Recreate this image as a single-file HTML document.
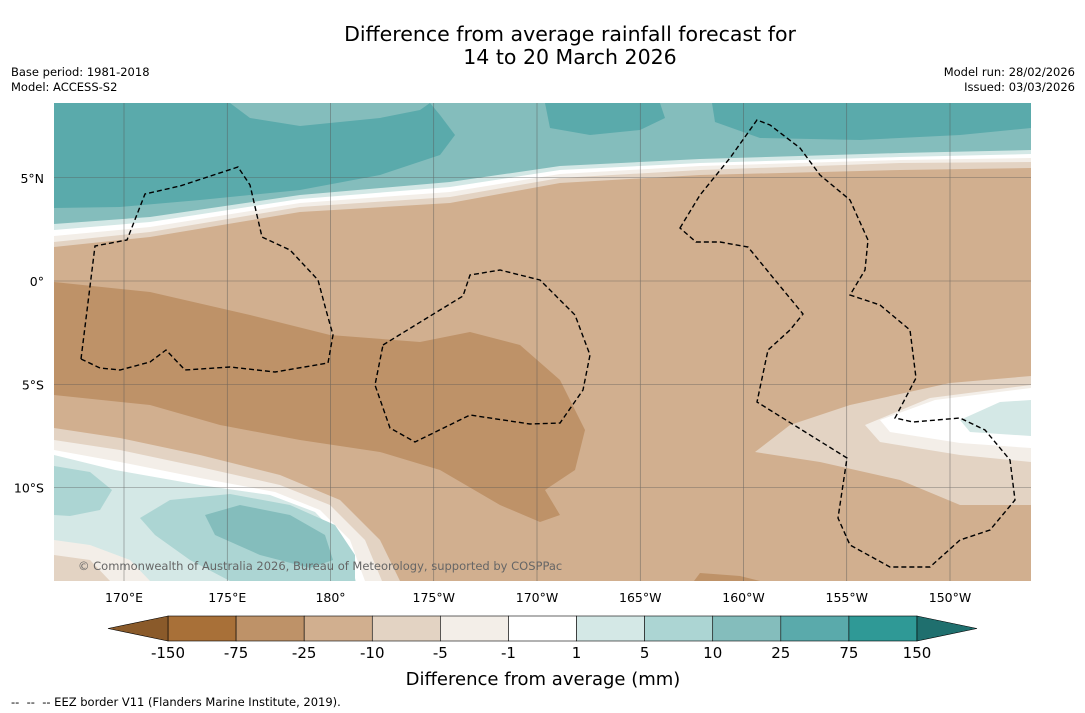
<!DOCTYPE html>
<html><head><meta charset="utf-8"><style>
body{margin:0;background:#fff;font-family:"DejaVu Sans",sans-serif;}
svg{display:block}
text{font-family:"DejaVu Sans",sans-serif}
</style></head><body>
<svg id="s" width="1085" height="713" viewBox="0 0 1085 713">
<rect width="1085" height="713" fill="#fff"/>
<text x="570" y="41" font-size="20.5" text-anchor="middle">Difference from average rainfall forecast for</text>
<text x="570" y="64" font-size="20.5" text-anchor="middle">14 to 20 March 2026</text>
<text x="11" y="76" font-size="11.5">Base period: 1981-2018</text>
<text x="11" y="91" font-size="11.5">Model: ACCESS-S2</text>
<text x="1075" y="76" font-size="11.5" text-anchor="end">Model run: 28/02/2026</text>
<text x="1075" y="91" font-size="11.5" text-anchor="end">Issued: 03/03/2026</text>
<defs><clipPath id="mc"><rect x="54" y="103" width="977" height="478"/></clipPath></defs>
<g clip-path="url(#mc)">
<rect x="54" y="103" width="977" height="478" fill="#d1af8f"/>
<path d="M54,103H1031V168L900,170L700,175L560,183L450,203L300,212L150,237L54,247Z" fill="#e3d3c3"/>
<path d="M54,103H1031V162L900,163L700,170L560,178L450,197L300,207L150,232L54,242Z" fill="#f3eee8"/>
<path d="M54,103H1031V158L900,160L700,166L560,174L450,192L300,203L150,227L54,236Z" fill="#fff"/>
<path d="M54,103H1031V154L900,157L700,163L560,170L450,187L300,199L150,222L54,230Z" fill="#d4e8e6"/>
<path d="M54,103H1031V150L900,153L700,159L560,166L450,182L300,195L150,217L54,224Z" fill="#84bdbc"/>
<path d="M54,103H430L440,115L455,135L440,155L380,175L300,190L200,200L120,207L54,208Z" fill="#5aaaab"/>
<path d="M54,103H230L250,118L300,126L380,118L420,110L430,103Z" fill="#84bdbc"/>
<path d="M545,103H660L665,118L640,130L590,135L550,128Z" fill="#5aaaab"/>
<path d="M712,103H1031V128L960,135L860,140L760,138L715,122Z" fill="#5aaaab"/>
<path d="M54,282L150,292L250,315L330,335L420,342L470,332L520,345L560,380L585,430L575,470L545,490L560,515L540,522L500,505L440,470L380,452L300,440L220,425L150,405L54,395Z" fill="#be9268"/>
<path d="M694,581L700,573L740,576L760,581Z" fill="#be9268"/>
<path d="M54,428L120,438L200,455L280,475L340,500L380,540L400,581H54Z" fill="#e3d3c3"/>
<path d="M54,440L120,450L200,467L280,485L330,505L365,540L382,581H54Z" fill="#f3eee8"/>
<path d="M54,450L120,462L200,478L275,492L320,510L350,540L365,581H54Z" fill="#fff"/>
<path d="M54,455L115,470L200,485L270,495L315,512L342,540L356,581H54Z" fill="#d4e8e6"/>
<path d="M54,466L90,472L112,490L100,510L70,516L54,515Z" fill="#acd5d3"/>
<path d="M140,518L170,500L230,494L290,505L335,525L355,555L355,581H230L190,560L155,535Z" fill="#acd5d3"/>
<path d="M205,515L240,505L290,515L325,535L333,560L310,568L260,555L215,535Z" fill="#84bdbc"/>
<path d="M54,540L90,545L130,560L150,581H54Z" fill="#f3eee8"/>
<path d="M54,555L90,560L110,581H54Z" fill="#e3d3c3"/>
<path d="M755,452L790,425L850,405L950,383L1031,376V505L960,505L900,480L820,462Z" fill="#e3d3c3"/>
<path d="M865,425L930,398L1031,385V462L960,455L880,442Z" fill="#f3eee8"/>
<path d="M880,420L935,400L1031,388V448L960,443L890,432Z" fill="#fff"/>
<path d="M960,420L1000,402L1031,400V436L970,432Z" fill="#d4e8e6"/>
<g stroke="#555" stroke-width="0.6" opacity="0.7" id="grid"></g>
<g fill="none" stroke="#000" stroke-width="1.4" stroke-dasharray="5,3">
<path d="M81,359L95,246L127,240L145,194L180,186L238,167L250,185L262,237L290,250L318,280L326,310L333,335L328,363L275,372L230,367L185,370L166,350L150,362L120,370L100,368Z"/>
<path d="M383,345L440,310L463,296L470,275L500,270L540,280L575,315L590,355L583,390L560,423L530,424L470,415L415,442L390,428L375,385Z"/>
<path d="M680,228L700,195L730,158L757,120L770,125L800,148L820,175L850,200L868,240L865,270L850,295L880,305L910,330L916,378L895,418L913,422L960,418L985,430L1010,460L1015,500L990,530L960,540L930,567L890,567L850,545L838,518L847,458L757,402L768,350L790,330L803,314L775,280L748,247L720,242L696,242Z"/>
</g>
<text x="78" y="570" font-size="11.5" fill="#666">© Commonwealth of Australia 2026, Bureau of Meteorology, supported by COSPPac</text>
</g>
<g id="axes" font-size="12.5"></g>
<g id="cbar"></g>
<text x="543" y="685" font-size="18" text-anchor="middle">Difference from average (mm)</text>
<text x="11" y="706" font-size="11.5">-- &nbsp;-- &nbsp;-- EEZ border V11 (Flanders Marine Institute, 2019).</text>
</svg>
<script>
const lonLabels=["170°E","175°E","180°","175°W","170°W","165°W","160°W","155°W","150°W"];
const lonValues=[170,175,180,185,190,195,200,205,210];
const latLabels=["5°N","0°","5°S","10°S"];
const latValues=[5,0,-5,-10];
const levelLabels=["-150","-75","-25","-10","-5","-1","1","5","10","25","75","150"];
const levelColors=["#a87038","#be9268","#d1af8f","#e3d3c3","#f3eee8","#ffffff","#d4e8e6","#acd5d3","#84bdbc","#5aaaab","#2f9996"];
const extColors=["#8a5a2a","#1f6f6e"];
const NS="http://www.w3.org/2000/svg";
const xS=l=>124+(l-170)*20.65;
const yS=la=>281-la*20.65;
function mk(t,a,p){const e=document.createElementNS(NS,t);for(const k in a)e.setAttribute(k,a[k]);p.appendChild(e);return e;}
const grid=document.getElementById('grid'),axes=document.getElementById('axes');
lonValues.forEach((v,i)=>{
 const l=mk('line',{x1:xS(v),x2:xS(v),y1:103,y2:581},grid);
 
 
 const t=mk('text',{x:xS(v),y:602,'text-anchor':'middle'},axes);t.textContent=lonLabels[i];
 
 
});
latValues.forEach((v,i)=>{
 const l=mk('line',{x1:54,x2:1031,y1:yS(v),y2:yS(v)},grid);
 
 
 const t=mk('text',{x:44,y:yS(v)+5,'text-anchor':'end'},axes);t.textContent=latLabels[i];
 
 
});
const cb=document.getElementById('cbar');
const x0=168,x1=917,w=(x1-x0)/levelColors.length,y0=616,h=25;
levelColors.forEach((c,i)=>{
 const r=mk('rect',{x:x0+i*w,y:y0,width:w,height:h,fill:c,stroke:'#000','stroke-width':0.6},cb);
 
 
});
const tl=mk('polygon',{points:`${x0},${y0} 108,${y0+h/2} ${x0},${y0+h}`,fill:extColors[0],stroke:'#000','stroke-width':0.6},cb);


const tr=mk('polygon',{points:`${x1},${y0} 977,${y0+h/2} ${x1},${y0+h}`,fill:extColors[1],stroke:'#000','stroke-width':0.6},cb);


levelLabels.forEach((s,i)=>{
 const t=mk('text',{x:x0+i*w,y:658,'font-size':15,'text-anchor':'middle'},cb);t.textContent=s;
 
 
});
</script>
</body></html>
